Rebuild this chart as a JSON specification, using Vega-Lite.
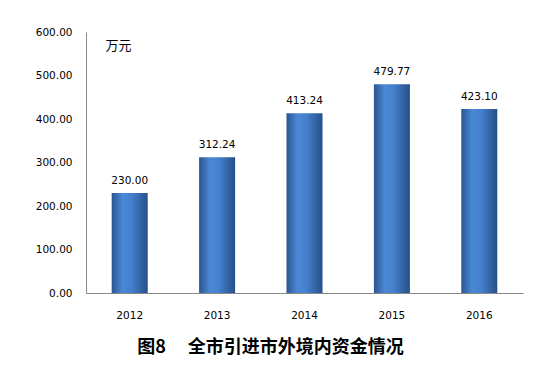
{
  "$schema": "https://vega.github.io/schema/vega-lite/v6.json",
  "width": 437,
  "height": 261,
  "autosize": {"type": "none"},
  "padding": {"left": 86, "top": 32, "right": 16, "bottom": 93},
  "background": "white",
  "config": {"view": {"stroke": null}, "font": "DejaVu Sans"},
  "title": {
    "text": "图8　 全市引进市外境内资金情况",
    "orient": "bottom",
    "anchor": "middle",
    "dx": -34,
    "offset": 18,
    "font": "Noto Sans CJK SC",
    "fontSize": 18,
    "fontWeight": "bold",
    "color": "#000000"
  },
  "data": {
    "values": [
      {"year": "2012", "value": 230.00},
      {"year": "2013", "value": 312.24},
      {"year": "2014", "value": 413.24},
      {"year": "2015", "value": 479.77},
      {"year": "2016", "value": 423.10}
    ]
  },
  "encoding": {
    "x": {
      "field": "year", "type": "ordinal",
      "scale": {"paddingInner": 0.588, "paddingOuter": 0.294},
      "axis": {
        "title": null, "labelAngle": 0, "ticks": false, "domainColor": "#888888",
        "labelFont": "DejaVu Sans", "labelFontSize": 10.5, "labelColor": "#000000", "labelPadding": 17
      }
    },
    "y": {
      "field": "value", "type": "quantitative",
      "scale": {"domain": [0, 600], "nice": false},
      "axis": {
        "values": [0, 100, 200, 300, 400, 500, 600],
        "format": ".2f", "grid": false, "ticks": false, "domainColor": "#888888",
        "labelFont": "DejaVu Sans", "labelFontSize": 10.5, "labelColor": "#000000", "labelPadding": 14,
        "title": "万元", "titleAngle": 0, "titleAlign": "left", "titleBaseline": "middle",
        "titleX": 19, "titleY": 13, "titleFont": "Noto Sans CJK SC", "titleFontSize": 13,
        "titleFontWeight": "normal", "titleColor": "#000000"
      }
    }
  },
  "layer": [
    {
      "mark": {
        "type": "bar",
        "color": {
          "gradient": "linear", "x1": 0, "x2": 1, "y1": 0, "y2": 0,
          "stops": [
            {"offset": 0, "color": "#2a5590"},
            {"offset": 0.3, "color": "#4a88d6"},
            {"offset": 0.55, "color": "#4580cc"},
            {"offset": 1, "color": "#264f88"}
          ]
        }
      }
    },
    {
      "mark": {"type": "text", "baseline": "bottom", "dy": -7, "font": "DejaVu Sans", "fontSize": 10.5, "color": "#000000"},
      "encoding": {"text": {"field": "value", "type": "quantitative", "format": ".2f"}}
    }
  ]
}
